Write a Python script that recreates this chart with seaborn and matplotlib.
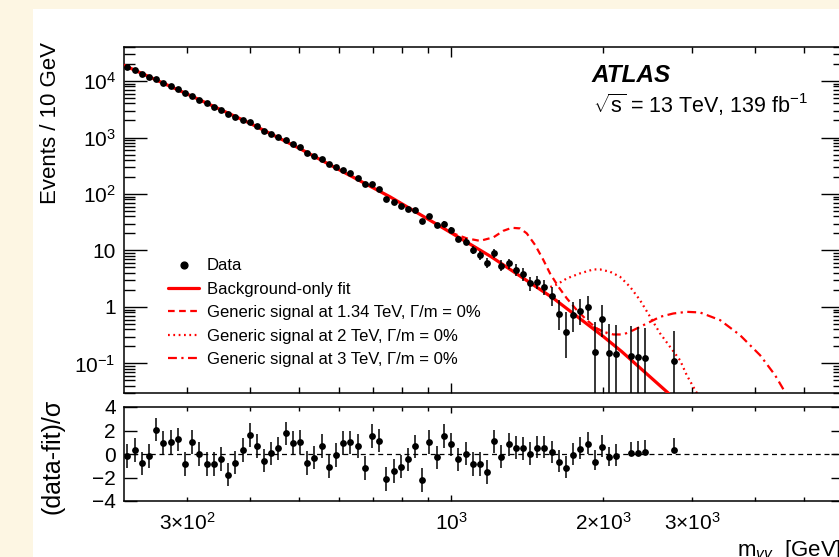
import numpy as np
import pandas as pd
import matplotlib
matplotlib.use("Agg")
import matplotlib.pyplot as plt
import matplotlib.ticker as mticker
from matplotlib.lines import Line2D
from matplotlib.patches import Rectangle
import seaborn as sns

# ---------------- data ----------------
mass = [228.6, 236.2, 244.1, 252.1, 260.6, 269.2, 278.2, 287.5, 297.2, 307.0,
        317.3, 327.9, 338.8, 350.1, 361.7, 373.8, 386.3, 399.1, 412.5, 426.2,
        440.5, 455.1, 470.3, 486.0, 502.2, 518.9, 536.2, 554.1, 572.6, 591.7,
        611.4, 631.8, 652.9, 674.5, 697.1, 720.3, 744.4, 769.1, 794.8, 821.3,
        848.8, 877.0, 906.2, 936.5, 967.6, 1000.0, 1033, 1068, 1103, 1140,
        1178, 1217, 1258, 1300, 1343, 1388, 1434, 1482, 1531, 1582,
        1635, 1690, 1746, 1804, 1865, 1927, 1991, 2057, 2126,
        2270, 2346, 2424, 2764]

events = [17750, 15630, 13520, 11910, 10660, 9230, 8085, 7100, 6055, 5420,
          4667, 4015, 3500, 3075, 2620, 2325, 2070, 1855, 1575, 1325,
          1161, 1015, 908, 770, 668, 542, 472, 419, 337, 300,
          268, 231, 195, 151.5, 150, 121, 82, 72, 62, 55,
          52, 33, 40, 28.3, 30, 23.1, 16.0, 14.3, 10.2, 8.2,
          6.0, 8.9, 5.4, 5.9, 4.6, 3.8, 2.63, 2.74, 2.26, 1.58,
          0.75, 0.366, 0.72, 0.86, 1.0, 0.162, 0.61, 0.151, 0.147,
          0.137, 0.132, 0.127, 0.112]

events_err_lo = [153, 141, 132, 123, 112, 102, 97, 92, 78, 76,
                 68, 60, 56, 52, 47, 44, 41, 38, 35, 30,
                 29, 26, 25, 22, 20, 18, 16, 15, 13, 12,
                 11.8, 10.9, 9.8, 7.9, 8.2, 7.1, 5.2, 4.8, 4.5, 4.2,
                 4.3, 2.9, 3.8, 2.9, 3.3, 2.7, 2.0, 2.0, 1.5, 1.3,
                 1.2, 1.5, 1.1, 1.2, 1.0, 0.9, 0.68, 0.70, 0.62, 0.52,
                 0.36, 0.24, 0.36, 0.39, 0.40, 0.134, 0.32, 0.125, 0.122,
                 0.113, 0.109, 0.105, 0.093]

events_err_hi = [153, 141, 132, 123, 112, 102, 97, 92, 78, 76,
                 68, 60, 56, 52, 47, 44, 41, 38, 35, 30,
                 29, 26, 25, 22, 20, 18, 16, 15, 13, 12,
                 11.8, 10.9, 9.8, 7.9, 8.2, 7.1, 5.2, 4.8, 4.5, 4.2,
                 4.3, 2.9, 3.8, 2.9, 3.3, 2.7, 2.0, 2.0, 1.6, 1.4,
                 1.3, 1.6, 1.25, 1.3, 1.1, 1.0, 0.82, 0.84, 0.76, 0.66,
                 0.58, 0.46, 0.51, 0.53, 0.56, 0.373, 0.48, 0.347, 0.338,
                 0.315, 0.304, 0.292, 0.258]

pull = [-0.17, 0.34, -0.79, -0.17, 2.08, 0.96, 1.04, 1.24, -0.87, 1.01,
        0.0, -0.87, -0.85, -0.42, -1.75, -0.73, 0.34, 1.63, 0.70, -0.56,
        0.06, 0.48, 1.75, 0.93, 1.04, -0.76, -0.31, 0.68, -1.07, -0.08,
        0.93, 0.99, 0.68, -1.21, 1.52, 1.13, -2.11, -1.44, -1.07, -0.45,
        0.65, -2.23, 1.04, -0.28, 1.55, 0.82, -0.45, 0.03, -0.85, -0.87,
        -1.52, 1.07, -0.23, 0.82, 0.54, 0.48, 0.0, 0.54, 0.54, 0.14,
        -0.68, -1.21, -0.08, 0.42, 0.85, -0.65, 0.62, -0.28, -0.14,
        0.06, 0.08, 0.17, 0.34]

pull_err_lo = [1.0, 1.0, 1.0, 1.0, 1.0, 1.0, 1.0, 1.0, 1.0, 1.0,
               1.0, 1.0, 1.0, 1.0, 1.0, 1.0, 1.0, 1.0, 1.0, 1.0,
               1.0, 1.0, 1.0, 1.0, 1.0, 1.0, 1.0, 1.0, 1.0, 1.0,
               1.0, 1.0, 1.0, 1.0, 1.0, 1.0, 1.0, 1.0, 1.0, 1.0,
               1.0, 1.0, 1.0, 1.0, 1.0, 1.0, 1.0, 1.0, 1.0, 1.0,
               1.0, 1.0, 1.0, 1.0, 1.0, 1.0, 0.9, 0.9, 0.9, 0.9,
               0.85, 0.85, 0.85, 0.85, 0.85, 0.7, 0.85, 0.75, 0.9,
               0.25, 0.25, 0.25, 0.15]

pull_err_hi = [1.0, 1.0, 1.0, 1.0, 1.0, 1.0, 1.0, 1.0, 1.0, 1.0,
               1.0, 1.0, 1.0, 1.0, 1.0, 1.0, 1.0, 1.0, 1.0, 1.0,
               1.0, 1.0, 1.0, 1.0, 1.0, 1.0, 1.0, 1.0, 1.0, 1.0,
               1.0, 1.0, 1.0, 1.0, 1.0, 1.0, 1.0, 1.0, 1.0, 1.0,
               1.0, 1.0, 1.0, 1.0, 1.0, 1.0, 1.0, 1.0, 1.0, 1.0,
               1.0, 1.0, 1.0, 1.0, 1.0, 1.0, 1.0, 1.0, 1.0, 1.0,
               1.0, 1.0, 1.0, 1.0, 1.0, 1.0, 1.0, 0.9, 1.0,
               1.0, 1.0, 1.0, 1.0]

fit_mass = [225, 300, 400, 500, 600, 757, 951, 1200, 1594, 2000, 2178, 2673, 2800]
fit_vals = [18970, 5888, 1778, 645.7, 269.2, 89.1, 26.9, 7.76, 1.426, 0.302, 0.162, 0.0317, 0.0217]

sig134_mass = [1000, 1074, 1141, 1213, 1269, 1319, 1370, 1412, 1467, 1523,
               1570, 1632, 1695, 1774, 1857, 1943, 2034]
sig134_vals = [20.7, 16.4, 14.8, 17.1, 22.3, 25.2, 24.6, 20.1, 12.5, 6.8,
               3.93, 2.27, 1.42, 0.88, 0.585, 0.417, 0.34]

sig2_mass = [1500, 1560, 1620, 1695, 1800, 1913, 1972, 2065, 2161, 2262,
             2367, 2478, 2594, 2714, 2841, 2929, 3042, 3150]
sig2_vals = [2.0, 2.2, 2.5, 3.2, 3.93, 4.62, 4.62, 4.2, 3.42, 2.27,
             1.32, 0.67, 0.34, 0.197, 0.114, 0.062, 0.034, 0.02]

sig3_mass = [1913, 2002, 2096, 2194, 2296, 2441, 2594, 2755, 2929, 3111,
             3410, 3735, 4092, 4382, 4586, 4700]
sig3_vals = [0.445, 0.363, 0.326, 0.326, 0.389, 0.51, 0.67, 0.767, 0.82, 0.80,
             0.585, 0.317, 0.14, 0.062, 0.031, 0.02]

legend_labels = ["Data", "Background-only fit",
                 "Generic signal at 1.34 TeV, \u0393/m = 0%",
                 "Generic signal at 2 TeV, \u0393/m = 0%",
                 "Generic signal at 3 TeV, \u0393/m = 0%"]

# ---------------- style ----------------
sns.set_theme(style="ticks")
plt.rcParams["font.family"] = ["Liberation Sans", "DejaVu Sans"]
plt.rcParams["mathtext.fontset"] = "custom"
plt.rcParams["mathtext.rm"] = "Liberation Sans"
plt.rcParams["mathtext.it"] = "Liberation Sans:italic"
plt.rcParams["mathtext.bf"] = "Liberation Sans:bold"
plt.rcParams["axes.unicode_minus"] = True
for key in ("text.color", "axes.labelcolor", "xtick.color", "ytick.color", "axes.edgecolor"):
    plt.rcParams[key] = "black"

W, H = 839, 557
fig = plt.figure(figsize=(W / 100, H / 100), dpi=100, facecolor="#fdf6e3")
fig.patches.append(Rectangle((33 / W, 0), 1, 1 - 9 / H, transform=fig.transFigure,
                             facecolor="white", edgecolor="none", zorder=-10))

ax = fig.add_axes([124 / W, 1 - 393 / H, 720 / W, 346 / H])
rax = fig.add_axes([124 / W, 1 - 501 / H, 720 / W, 94 / H])
for a in (ax, rax):
    a.set_facecolor("white")
    a.set_xscale("log")
    a.set_xlim(225, 6000)
    for s in a.spines.values():
        s.set_linewidth(1.1)
        s.set_color("black")
ax.set_yscale("log")
ax.set_ylim(0.03, 4e4)
rax.set_ylim(-4, 4)

red = "#ff0000"
df_fit = pd.DataFrame({"m": fit_mass, "v": fit_vals})
sns.lineplot(data=df_fit, x="m", y="v", ax=ax, color=red, lw=2.3, sort=False,
             estimator=None, legend=False, zorder=3)
sns.lineplot(x=sig134_mass, y=sig134_vals, ax=ax, color=red, lw=1.6, sort=False,
             estimator=None, legend=False, zorder=2).lines[-1].set_linestyle((0, (3, 2)))
sns.lineplot(x=sig2_mass, y=sig2_vals, ax=ax, color=red, lw=1.6, sort=False,
             estimator=None, legend=False, zorder=2).lines[-1].set_linestyle((0, (0.8, 1.6)))
sns.lineplot(x=sig3_mass, y=sig3_vals, ax=ax, color=red, lw=1.6, sort=False,
             estimator=None, legend=False, zorder=2).lines[-1].set_linestyle((0, (4, 2, 1, 2)))

ax.errorbar(mass, events, yerr=[events_err_lo, events_err_hi], fmt="none",
            ecolor="black", elinewidth=1.1, capsize=0, zorder=4)
sns.scatterplot(x=mass, y=events, ax=ax, color="black", s=24, linewidth=0,
                zorder=5, legend=False)

rax.axhline(0, color="black", lw=0.9, ls=(0, (4, 3)), zorder=1)
rax.errorbar(mass, pull, yerr=[pull_err_lo, pull_err_hi], fmt="none",
             ecolor="black", elinewidth=1.1, capsize=0, zorder=4)
sns.scatterplot(x=mass, y=pull, ax=rax, color="black", s=24, linewidth=0,
                zorder=5, legend=False)

# ---------------- ticks ----------------
for a in (ax, rax):
    a.tick_params(which="both", direction="in", top=True, right=True,
                  width=1.0, color="black", labelsize=15, pad=6)
    a.xaxis.set_major_locator(mticker.LogLocator(base=10, numticks=10))
    a.xaxis.set_minor_locator(mticker.LogLocator(base=10, subs=(2, 3, 4, 5, 6, 7, 8, 9), numticks=20))

ax.tick_params(axis="x", which="major", length=7.2)
ax.tick_params(axis="x", which="minor", length=4.3)
ax.tick_params(axis="x", which="both", labelbottom=False)
ax.tick_params(axis="y", which="major", length=16.3)
ax.tick_params(axis="y", which="minor", length=7.9)
ax.yaxis.set_major_locator(mticker.FixedLocator([0.1, 1, 10, 100, 1000, 10000]))
ax.yaxis.set_major_formatter(mticker.FixedFormatter(
    [r"$10^{-1}$", "1", "10", r"$10^{2}$", r"$10^{3}$", r"$10^{4}$"]))
ax.yaxis.set_minor_locator(mticker.LogLocator(base=10, subs=(2, 3, 4, 5, 6, 7, 8, 9), numticks=20))
ax.yaxis.set_minor_formatter(mticker.NullFormatter())

xlabels = {300: r"$3{\times}10^{2}$", 1000: r"$10^{3}$", 2000: r"$2{\times}10^{3}$",
           3000: r"$3{\times}10^{3}$"}


def fmt_x(v, pos):
    for k, s in xlabels.items():
        if abs(v - k) < 1e-6 * k:
            return s
    return ""


rax.xaxis.set_major_formatter(mticker.FuncFormatter(fmt_x))
rax.xaxis.set_minor_formatter(mticker.FuncFormatter(fmt_x))
rax.tick_params(axis="x", which="major", length=4.5, pad=8)
rax.tick_params(axis="x", which="minor", length=2.6, pad=8)
rax.tick_params(axis="y", which="major", length=9.4)
rax.yaxis.set_major_locator(mticker.FixedLocator([-4, -2, 0, 2, 4]))
rax.yaxis.set_major_formatter(mticker.FixedFormatter(["\u22124", "\u22122", "0", "2", "4"]))
rax.yaxis.set_minor_locator(mticker.NullLocator())

# ---------------- labels ----------------
ax.set_xlabel("")
ax.set_ylabel("Events / 10 GeV", fontsize=16, ha="right")
ax.yaxis.set_label_coords(-0.0875, 1.015)
rax.set_xlabel("")
rax.set_ylabel("(data-fit)/\u03c3", fontsize=18)
rax.yaxis.set_label_coords(-0.082, 0.47)

fig.text(842 / W, 1 - 556 / H, r"m$_{\gamma\gamma}$  [GeV]", ha="right", va="baseline", fontsize=16)
fig.text(591.5 / W, 1 - 81.5 / H, "ATLAS", fontsize=17.5, fontweight="bold",
         fontstyle="italic", va="baseline")
fig.text(593 / W, 1 - 113 / H, r"$\sqrt{\mathrm{s}}$ = 13 TeV, 139 fb$^{-1}$",
         fontsize=15.5, va="baseline")

handles = [
    Line2D([], [], marker="o", color="black", ls="none", ms=4.9),
    Line2D([], [], color=red, lw=2.3),
    Line2D([], [], color=red, lw=1.6, ls=(0, (3, 2))),
    Line2D([], [], color=red, lw=1.6, ls=(0, (0.8, 1.6))),
    Line2D([], [], color=red, lw=1.6, ls=(0, (4, 2, 1, 2))),
]
fig.legend(handles, legend_labels, loc="upper left",
           bbox_to_anchor=(168 / W, 1 - 258.5 / H), bbox_transform=fig.transFigure,
           frameon=False, fontsize=12, handlelength=1.86, handletextpad=0.48,
           labelspacing=0.5, borderpad=0, borderaxespad=0)

fig.savefig("out.png", dpi=100, facecolor=fig.get_facecolor())
